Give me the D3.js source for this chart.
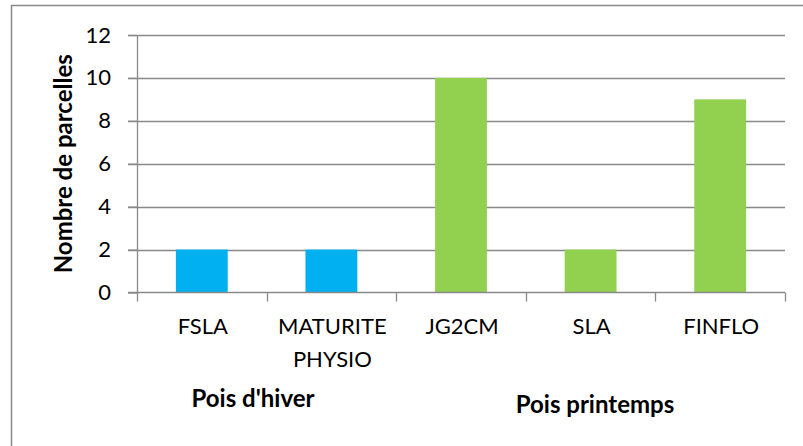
<!DOCTYPE html>
<html>
<head>
<meta charset="utf-8">
<script src="https://cdn.jsdelivr.net/npm/d3@7"></script>
<style>
  body { margin: 0; background: #fff; }
  svg { display: block; font-family: Lato, "Liberation Sans", sans-serif; }
</style>
</head>
<body>
<div id="chart"></div>
<script>
const categories = ['FSLA', 'MATURITE PHYSIO', 'JG2CM', 'SLA', 'FINFLO'];
const values = [2, 2, 10, 2, 9];
const groups = ['hiver', 'hiver', 'printemps', 'printemps', 'printemps'];
const groupLabels = [
    { name: "Pois d'hiver", cx: 253, y: 407 },
    { name: 'Pois printemps', cx: 595, y: 413 }
];
const yTicks = [0, 2, 4, 6, 8, 10, 12];

const width = 803, height = 446;
const margin = { left: 137, right: 18, top: 35, bottom: 154 };
const colors = { hiver: '#00B0F0', printemps: '#92D050' };

const svg = d3.select('#chart').append('svg')
    .attr('width', width)
    .attr('height', height);

// outer chart frame
svg.append('rect')
    .attr('x', 11.5).attr('y', 5.5)
    .attr('width', 800).attr('height', 450)
    .attr('fill', 'none')
    .attr('stroke', '#898989')
    .attr('stroke-width', 1.5);

const x = d3.scaleBand()
    .domain(categories)
    .range([margin.left, width - margin.right])
    .paddingInner(0.6)
    .paddingOuter(0.3);

const y = d3.scaleLinear()
    .domain([0, 12])
    .range([height - margin.bottom + 0.5, margin.top]);

// gridlines
svg.append('g')
    .selectAll('line')
    .data(yTicks.filter(t => t > 0))
    .enter().append('line')
    .attr('x1', margin.left - 9)
    .attr('x2', width - margin.right)
    .attr('y1', d => Math.round(y(d)) + 0.5)
    .attr('y2', d => Math.round(y(d)) + 0.5)
    .attr('stroke', '#898989')
    .attr('stroke-width', 1.3);

// bars
svg.append('g')
    .selectAll('rect')
    .data(categories)
    .enter().append('rect')
    .attr('x', d => x(d))
    .attr('width', x.bandwidth())
    .attr('y', (d, i) => y(values[i]))
    .attr('height', (d, i) => y(0) - y(values[i]))
    .attr('fill', (d, i) => colors[groups[i]]);

// y axis
const yAxis = svg.append('g')
    .attr('transform', `translate(${margin.left},0)`)
    .call(d3.axisLeft(y).tickValues(yTicks).tickSize(9).tickPadding(17));
yAxis.selectAll('line, path').attr('stroke', '#898989').attr('stroke-width', 1.3);
yAxis.select('.domain').attr('d', `M0.5,${y(12)}V${y(0)}`);
yAxis.selectAll('text')
    .attr('fill', '#000')
    .style('font-size', '22px')
    .style('font-family', 'Lato, sans-serif');

// x axis line with category separators
const step = x.step();
const bounds = d3.range(categories.length + 1).map(i => margin.left + i * step);
const xg = svg.append('g');
xg.append('line')
    .attr('x1', margin.left - 9)
    .attr('x2', width - margin.right)
    .attr('y1', y(0)).attr('y2', y(0))
    .attr('stroke', '#898989').attr('stroke-width', 1.3);
xg.selectAll('.sep')
    .data(bounds)
    .enter().append('line')
    .attr('x1', d => Math.round(d) + 0.5)
    .attr('x2', d => Math.round(d) + 0.5)
    .attr('y1', y(0))
    .attr('y2', y(0) + 9)
    .attr('stroke', '#898989').attr('stroke-width', 1.3);

// category labels (wrapped on spaces)
xg.selectAll('.cat')
    .data(categories)
    .enter().append('text')
    .attr('text-anchor', 'middle')
    .style('font-size', '22px')
    .attr('fill', '#000')
    .each(function(d) {
        const t = d3.select(this);
        d.split(' ').forEach((w, i) => {
            t.append('tspan')
                .attr('x', x(d) + x.bandwidth() / 2 + 1)
                .attr('y', y(0) + 41 + i * 33)
                .text(w);
        });
    });

// group labels
svg.append('g')
    .selectAll('text')
    .data(groupLabels)
    .enter().append('text')
    .attr('x', d => d.cx)
    .attr('y', d => d.y)
    .attr('text-anchor', 'middle')
    .style('font-size', '24px')
    .style('font-weight', 'bold')
    .text(d => d.name);

// y axis title
svg.append('text')
    .attr('transform', `translate(72,${(y(0) + y(12)) / 2}) rotate(-90)`)
    .attr('text-anchor', 'middle')
    .style('font-size', '24px')
    .style('font-weight', 'bold')
    .text('Nombre de parcelles');
</script>
</body>
</html>
